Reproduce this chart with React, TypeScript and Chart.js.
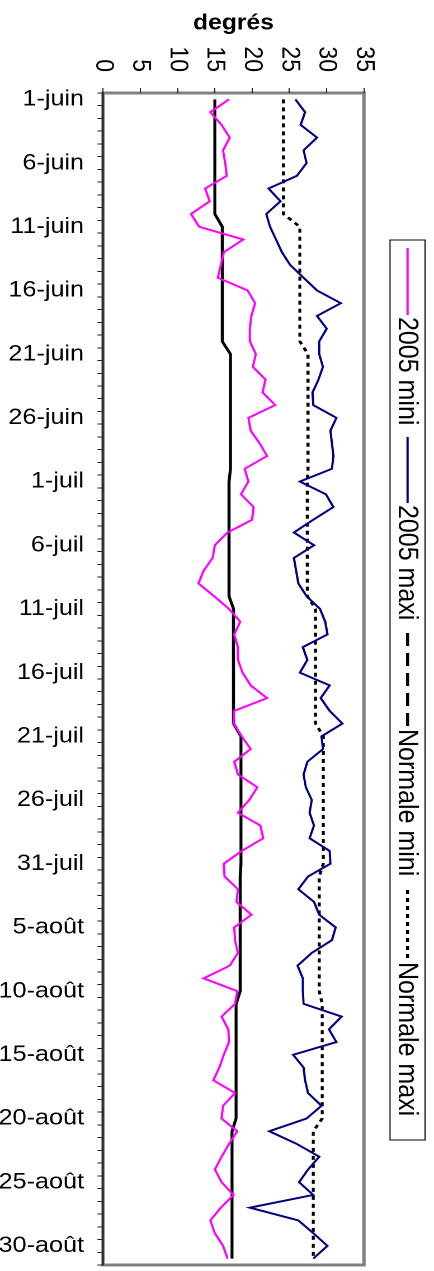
import React, { useEffect, useRef } from 'react';
import { Chart, registerables } from 'chart.js';

Chart.register(...registerables);

// ---- categories (1 juin -> 31 août) ----
const JUIN = ['1-juin','2-juin','3-juin','4-juin','5-juin','6-juin','7-juin','8-juin','9-juin','10-juin','11-juin','12-juin','13-juin','14-juin','15-juin','16-juin','17-juin','18-juin','19-juin','20-juin','21-juin','22-juin','23-juin','24-juin','25-juin','26-juin','27-juin','28-juin','29-juin','30-juin'];
const JUIL = ['1-juil','2-juil','3-juil','4-juil','5-juil','6-juil','7-juil','8-juil','9-juil','10-juil','11-juil','12-juil','13-juil','14-juil','15-juil','16-juil','17-juil','18-juil','19-juil','20-juil','21-juil','22-juil','23-juil','24-juil','25-juil','26-juil','27-juil','28-juil','29-juil','30-juil','31-juil'];
const AOUT = ['1-août','2-août','3-août','4-août','5-août','6-août','7-août','8-août','9-août','10-août','11-août','12-août','13-août','14-août','15-août','16-août','17-août','18-août','19-août','20-août','21-août','22-août','23-août','24-août','25-août','26-août','27-août','28-août','29-août','30-août','31-août'];
const CATEGORIES = [...JUIN, ...JUIL, ...AOUT];

const TICK_LABELS = ['1-juin','6-juin','11-juin','16-juin','21-juin','26-juin','1-juil','6-juil','11-juil','16-juil','21-juil','26-juil','31-juil','5-août','10-août','15-août','20-août','25-août','30-août'];
const VALUE_TICKS = [0, 5, 10, 15, 20, 25, 30, 35];

// ---- series (°C) ----
const MINI_2005 = [
  16.9,14.4,15.9,17.0,16.1,16.4,16.6,13.7,14.3,11.8,
  12.9,18.8,16.2,15.8,15.4,19.4,20.4,19.9,19.7,19.7,
  20.5,20.1,21.8,21.4,23.1,19.5,19.8,21.0,22.0,19.0,
  19.5,18.5,20.2,20.0,16.7,15.0,14.7,13.5,12.8,14.9,
  16.9,18.4,17.6,18.1,18.1,18.7,19.8,22.0,17.6,17.5,
  18.6,19.8,17.6,18.1,20.7,19.6,18.1,21.1,21.5,18.6,
  16.2,16.3,18.1,17.9,19.9,17.6,17.7,18.1,17.0,13.5,
  18.0,17.7,15.9,16.8,16.9,16.2,15.6,14.8,17.7,16.1,
  15.9,18.0,16.9,15.9,15.0,15.9,17.5,15.8,14.4,15.0,
  16.1,16.7,
];
const MAXI_2005 = [
  25.8,27.1,26.5,28.7,26.9,27.3,26.0,22.2,23.8,21.9,
  22.4,23.2,24.0,25.1,26.9,28.7,31.9,28.7,30.0,29.0,
  29.0,29.5,28.9,28.1,28.2,31.3,30.5,30.7,30.9,30.7,
  26.4,29.9,30.9,28.2,25.6,28.3,25.6,25.9,26.2,27.3,
  29.1,29.8,30.1,26.8,27.4,26.4,30.4,29.2,30.4,32.1,
  29.3,29.5,27.4,26.9,27.2,28.0,27.7,28.3,27.7,30.4,
  30.5,27.5,26.2,28.3,29.0,31.2,30.7,28.0,26.1,26.8,
  26.8,26.9,32.0,30.3,31.3,25.5,26.9,27.1,27.5,29.3,
  27.3,22.3,26.0,29.0,27.5,26.3,28.2,19.7,26.2,28.2,
  30.1,28.2,
];
const NORMALE_MINI = [
  15.0,15.0,15.0,15.0,15.0,15.0,15.0,15.0,15.0,15.0,
  16.0,16.0,16.0,16.0,16.0,16.0,16.0,16.0,16.0,16.0,
  17.1,17.1,17.1,17.1,17.1,17.1,17.1,17.1,17.1,17.1,
  16.9,16.9,16.9,16.9,16.9,16.9,16.9,16.9,16.9,16.9,
  17.5,17.5,17.5,17.5,17.5,17.5,17.5,17.5,17.5,17.5,
  18.5,18.5,18.5,18.5,18.5,18.5,18.5,18.5,18.5,18.5,18.5,
  18.4,18.4,18.4,18.4,18.4,18.4,18.4,18.4,18.4,18.4,
  17.85,17.85,17.85,17.85,17.85,17.85,17.85,17.85,17.85,17.85,
  17.3,17.3,17.3,17.3,17.3,17.3,17.3,17.3,17.3,17.3,17.3,
];
const NORMALE_MAXI = [
  24.2,24.2,24.2,24.2,24.2,24.2,24.2,24.2,24.2,24.2,
  26.4,26.4,26.4,26.4,26.4,26.4,26.4,26.4,26.4,26.4,
  27.5,27.5,27.5,27.5,27.5,27.5,27.5,27.5,27.5,27.5,
  27.4,27.4,27.4,27.4,27.4,27.4,27.4,27.4,27.4,27.4,
  28.5,28.5,28.5,28.5,28.5,28.5,28.5,28.5,28.5,28.5,
  29.55,29.55,29.55,29.55,29.55,29.55,29.55,29.55,29.55,29.55,29.55,
  29.0,29.0,29.0,29.0,29.0,29.0,29.0,29.0,29.0,29.0,
  29.4,29.4,29.4,29.4,29.4,29.4,29.4,29.4,29.4,29.4,
  28.2,28.2,28.2,28.2,28.2,28.2,28.2,28.2,28.2,28.2,28.2,
];

const SERIES_NAMES = ['2005 mini', '2005 maxi', 'Normale mini', 'Normale maxi'];

// ---- layout (chart is drawn landscape, then turned a quarter clockwise) ----
const PAGE_W = 434;
const PAGE_H = 1271;
const W0 = PAGE_H;
const H0 = 388;
const K = PAGE_W / H0;
const FONT = "'Liberation Sans', Arial, Helvetica, sans-serif";

const LEGEND_BOX = { left: 240, right: 1140, top: 8, bottom: 39.3 };
const LEGEND_LINES = [
  { start: 248, len: 67, color: '#FF00FF', width: 2, dash: [] as number[] },
  { start: 437, len: 66, color: '#000080', width: 2, dash: [] as number[] },
  { start: 633, len: 94, color: '#000000', width: 2.7, dash: [13, 7] },
  { start: 890, len: 70, color: '#000000', width: 2.7, dash: [4, 4] },
];

export default function App() {
  const canvasRef = useRef<HTMLCanvasElement>(null);

  useEffect(() => {
    document.body.style.margin = '0';
    const canvas = canvasRef.current;
    if (!canvas) return;

    const framePlugin = {
      id: 'plotFrame',
      beforeDraw(chart: any) {
        const a = chart.chartArea;
        const c = chart.ctx;
        c.save();
        c.fillStyle = '#ffffff';
        c.fillRect(0, 0, chart.width, chart.height);
        c.strokeStyle = '#808080';
        c.lineWidth = 3;
        c.strokeRect(a.left, a.top, a.right - a.left, a.bottom - a.top);
        c.restore();
      },
    };

    const legendPlugin = {
      id: 'lineLegend',
      afterDraw(chart: any) {
        const c = chart.ctx;
        c.save();
        c.strokeStyle = '#000';
        c.lineWidth = 1;
        c.setLineDash([]);
        c.strokeRect(LEGEND_BOX.left, LEGEND_BOX.top, LEGEND_BOX.right - LEGEND_BOX.left, LEGEND_BOX.bottom - LEGEND_BOX.top);
        const yc = (LEGEND_BOX.top + LEGEND_BOX.bottom) / 2;
        c.font = `25px ${FONT}`;
        c.fillStyle = '#000';
        c.textBaseline = 'middle';
        c.textAlign = 'left';
        LEGEND_LINES.forEach((it, i) => {
          c.beginPath();
          c.strokeStyle = it.color;
          c.lineWidth = it.width;
          c.setLineDash(it.dash);
          c.moveTo(it.start, yc);
          c.lineTo(it.start + it.len, yc);
          c.stroke();
          c.setLineDash([]);
          c.fillText(chart.data.datasets[i].label, it.start + it.len + 2, yc + 1);
        });
        c.restore();
      },
    };

    const tickSet = new Set(TICK_LABELS);

    const chart = new Chart(canvas, {
      type: 'line',
      data: {
        labels: CATEGORIES,
        datasets: [
          { label: SERIES_NAMES[0], data: MINI_2005, borderColor: '#FF00FF', backgroundColor: '#FF00FF', borderWidth: 2, pointRadius: 0, tension: 0, fill: false },
          { label: SERIES_NAMES[1], data: MAXI_2005, borderColor: '#000080', backgroundColor: '#000080', borderWidth: 2, pointRadius: 0, tension: 0, fill: false },
          { label: SERIES_NAMES[2], data: NORMALE_MINI, borderColor: '#000000', backgroundColor: '#000000', borderWidth: 2.7, pointRadius: 0, tension: 0, fill: false },
          { label: SERIES_NAMES[3], data: NORMALE_MAXI, borderColor: '#000000', backgroundColor: '#000000', borderWidth: 2.7, borderDash: [4, 4], pointRadius: 0, tension: 0, fill: false },
        ],
      },
      options: {
        responsive: false,
        animation: false,
        devicePixelRatio: 2,
        layout: { padding: { top: 62.6, right: 6, left: 0, bottom: 0 } },
        plugins: {
          legend: { display: false },
          tooltip: { enabled: false },
          title: { display: false },
        },
        scales: {
          x: {
            type: 'category',
            position: 'bottom',
            offset: true,
            grid: { display: true, offset: true, drawOnChartArea: false, drawTicks: true, tickLength: 5, color: '#222', lineWidth: 1 },
            border: { display: true, color: '#333', width: 2 },
            ticks: {
              autoSkip: false,
              minRotation: 90,
              maxRotation: 90,
              padding: 12,
              color: '#000',
              font: { family: FONT, size: 22.5 },
              callback: (_v: any, i: number) => (tickSet.has(CATEGORIES[i]) ? CATEGORIES[i] : ''),
            },
            afterFit: (s: any) => {
              s.height = H0 - 295.9;
              s.paddingLeft = 0;
              s.paddingRight = 0;
            },
          },
          y: {
            type: 'linear',
            position: 'left',
            min: 0,
            max: 35,
            afterBuildTicks: (s: any) => { s.ticks = VALUE_TICKS.map((v) => ({ value: v })); },
            grid: { display: true, drawOnChartArea: false, drawTicks: true, tickLength: 5, color: '#222', lineWidth: 1 },
            border: { display: false },
            ticks: { padding: 16, color: '#000', font: { family: FONT, size: 23 } },
            title: { display: true, text: 'degrés', color: '#000', font: { family: FONT, size: 22, weight: 'bold' }, padding: { top: 10, bottom: 0 } },
            afterFit: (s: any) => {
              s.width = 93;
              s.paddingTop = 0;
              s.paddingBottom = 0;
            },
          },
        },
      },
      plugins: [framePlugin, legendPlugin],
    } as any);

    return () => chart.destroy();
  }, []);

  return (
    <div style={{ position: 'absolute', left: 0, top: 0, width: PAGE_W, height: PAGE_H, overflow: 'hidden', background: '#fff' }}>
      <div
        style={{
          position: 'absolute',
          left: 0,
          top: 0,
          width: W0,
          height: H0,
          transformOrigin: '0 0',
          transform: `translate(${PAGE_W}px, 0px) rotate(90deg) scaleY(${K})`,
        }}
      >
        <canvas ref={canvasRef} width={W0} height={H0} />
      </div>
    </div>
  );
}
